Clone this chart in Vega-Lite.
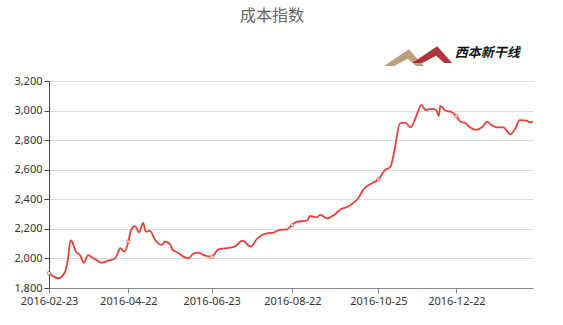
{
  "$schema": "https://vega.github.io/schema/vega-lite/v6.json",
  "width": 484,
  "height": 207,
  "autosize": "none",
  "padding": {"left": 49, "top": 81, "right": 30, "bottom": 37},
  "background": "white",
  "title": {"text": "成本指数", "anchor": "middle", "frame": "group", "offset": 22, "dx": -19, "fontSize": 16, "fontWeight": "normal", "color": "#666666", "font": "Noto Sans CJK SC"},
  "config": {
    "view": {"stroke": null},
    "axis": {"labelFont": "Noto Sans", "labelFontSize": 11, "labelColor": "#333333", "tickSize": 5, "title": null}
  },
  "datasets": {
    "cost": [
      {"date": "2016-02-23", "value": 1900},
      {"date": "2016-03-01", "value": 1866},
      {"date": "2016-03-06", "value": 1910},
      {"date": "2016-03-08", "value": 1990},
      {"date": "2016-03-10", "value": 2122},
      {"date": "2016-03-11", "value": 2115},
      {"date": "2016-03-14", "value": 2046},
      {"date": "2016-03-17", "value": 2023},
      {"date": "2016-03-20", "value": 1971},
      {"date": "2016-03-23", "value": 2023},
      {"date": "2016-03-27", "value": 2001},
      {"date": "2016-03-30", "value": 1985},
      {"date": "2016-04-02", "value": 1971},
      {"date": "2016-04-07", "value": 1985},
      {"date": "2016-04-11", "value": 1994},
      {"date": "2016-04-13", "value": 2012},
      {"date": "2016-04-16", "value": 2069},
      {"date": "2016-04-19", "value": 2046},
      {"date": "2016-04-22", "value": 2113},
      {"date": "2016-04-24", "value": 2192},
      {"date": "2016-04-27", "value": 2219},
      {"date": "2016-04-30", "value": 2177},
      {"date": "2016-05-03", "value": 2240},
      {"date": "2016-05-05", "value": 2181},
      {"date": "2016-05-08", "value": 2186},
      {"date": "2016-05-12", "value": 2125},
      {"date": "2016-05-17", "value": 2091},
      {"date": "2016-05-19", "value": 2113},
      {"date": "2016-05-23", "value": 2098},
      {"date": "2016-05-25", "value": 2057},
      {"date": "2016-05-29", "value": 2039},
      {"date": "2016-06-02", "value": 2012},
      {"date": "2016-06-06", "value": 2001},
      {"date": "2016-06-09", "value": 2030},
      {"date": "2016-06-13", "value": 2039},
      {"date": "2016-06-17", "value": 2023},
      {"date": "2016-06-23", "value": 2012},
      {"date": "2016-06-28", "value": 2062},
      {"date": "2016-07-04", "value": 2069},
      {"date": "2016-07-10", "value": 2080},
      {"date": "2016-07-16", "value": 2120},
      {"date": "2016-07-22", "value": 2080},
      {"date": "2016-07-27", "value": 2136},
      {"date": "2016-08-03", "value": 2170},
      {"date": "2016-08-08", "value": 2174},
      {"date": "2016-08-12", "value": 2192},
      {"date": "2016-08-18", "value": 2197},
      {"date": "2016-08-22", "value": 2226},
      {"date": "2016-08-25", "value": 2248},
      {"date": "2016-09-02", "value": 2255},
      {"date": "2016-09-04", "value": 2287},
      {"date": "2016-09-09", "value": 2278},
      {"date": "2016-09-12", "value": 2294},
      {"date": "2016-09-17", "value": 2271},
      {"date": "2016-09-22", "value": 2294},
      {"date": "2016-09-27", "value": 2332},
      {"date": "2016-10-02", "value": 2350},
      {"date": "2016-10-06", "value": 2373},
      {"date": "2016-10-10", "value": 2407},
      {"date": "2016-10-14", "value": 2468},
      {"date": "2016-10-21", "value": 2512},
      {"date": "2016-10-25", "value": 2535},
      {"date": "2016-10-30", "value": 2598},
      {"date": "2016-11-03", "value": 2620},
      {"date": "2016-11-06", "value": 2733},
      {"date": "2016-11-10", "value": 2914},
      {"date": "2016-11-14", "value": 2918},
      {"date": "2016-11-18", "value": 2887},
      {"date": "2016-11-23", "value": 2982},
      {"date": "2016-11-26", "value": 3038},
      {"date": "2016-11-29", "value": 3004},
      {"date": "2016-12-04", "value": 3011},
      {"date": "2016-12-07", "value": 3004},
      {"date": "2016-12-09", "value": 2963},
      {"date": "2016-12-10", "value": 3031},
      {"date": "2016-12-14", "value": 2999},
      {"date": "2016-12-18", "value": 2992},
      {"date": "2016-12-22", "value": 2963},
      {"date": "2016-12-25", "value": 2925},
      {"date": "2016-12-29", "value": 2914},
      {"date": "2017-01-01", "value": 2887},
      {"date": "2017-01-06", "value": 2869},
      {"date": "2017-01-10", "value": 2887},
      {"date": "2017-01-14", "value": 2925},
      {"date": "2017-01-17", "value": 2902},
      {"date": "2017-01-21", "value": 2887},
      {"date": "2017-01-26", "value": 2887},
      {"date": "2017-01-31", "value": 2840},
      {"date": "2017-02-04", "value": 2880},
      {"date": "2017-02-07", "value": 2936},
      {"date": "2017-02-12", "value": 2932},
      {"date": "2017-02-15", "value": 2921},
      {"date": "2017-02-17", "value": 2925}
    ],
    "logo": [
      {"date": "2017-01-14", "value": 3386, "label": "西本新干线"}
    ],
    "logoMark": [
      {"date": "2016-11-13", "value": 3358, "part": "tan"},
      {"date": "2016-12-04", "value": 3378, "part": "red"}
    ]
  },
  "encoding": {
    "x": {
      "field": "date",
      "type": "temporal",
      "scale": {"type": "utc", "domain": [{"year": 2016, "month": 2, "date": 23, "utc": true}, {"year": 2017, "month": 2, "date": 17, "utc": true}]},
      "axis": {
        "values": [
          {"year": 2016, "month": 2, "date": 23, "utc": true},
          {"year": 2016, "month": 4, "date": 22, "utc": true},
          {"year": 2016, "month": 6, "date": 23, "utc": true},
          {"year": 2016, "month": 8, "date": 22, "utc": true},
          {"year": 2016, "month": 10, "date": 25, "utc": true},
          {"year": 2016, "month": 12, "date": 22, "utc": true}
        ],
        "labelExpr": "utcFormat(datum.value, '%Y-%m-%d')",
        "grid": false,
        "domainColor": "#888888",
        "tickColor": "#888888",
        "labelPadding": 2,
        "labelFlush": false
      }
    },
    "y": {
      "field": "value",
      "type": "quantitative",
      "scale": {"domain": [1800, 3200], "nice": false, "zero": false},
      "axis": {
        "values": [1800, 2000, 2200, 2400, 2600, 2800, 3000, 3200],
        "format": ",d",
        "grid": true,
        "gridColor": "#dddddd",
        "domainColor": "#444444",
        "tickColor": "#444444",
        "labelPadding": 2
      }
    }
  },
  "layer": [
    {
      "data": {"name": "cost"},
      "mark": {"type": "line", "color": "#e4413b", "strokeWidth": 1.8, "interpolate": "monotone"}
    },
    {
      "data": {"name": "cost"},
      "transform": [
        {"filter": {"timeUnit": "utcyearmonthdate", "field": "date", "oneOf": [
          {"year": 2016, "month": 2, "date": 23, "utc": true},
          {"year": 2016, "month": 4, "date": 22, "utc": true},
          {"year": 2016, "month": 6, "date": 23, "utc": true},
          {"year": 2016, "month": 8, "date": 22, "utc": true},
          {"year": 2016, "month": 10, "date": 25, "utc": true},
          {"year": 2016, "month": 12, "date": 22, "utc": true}
        ]}}
      ],
      "mark": {"type": "point", "shape": "circle", "size": 14, "filled": true, "fill": "white", "stroke": "#e4413b", "strokeWidth": 1}
    },
    {
      "data": {"name": "logoMark"},
      "mark": {"type": "point", "shape": "M -1 0.42 L 0.25 -0.42 L 1 0.42 L 0.6 0.42 L 0.2 0.05 L -0.5 0.42 Z", "size": 1600, "filled": true, "opacity": 0.9, "clip": false},
      "encoding": {
        "color": {"field": "part", "type": "nominal", "scale": {"domain": ["tan", "red"], "range": ["#b89470", "#a81e2a"]}, "legend": null}
      }
    },
    {
      "data": {"name": "logo"},
      "mark": {"type": "text", "font": "Noto Sans CJK SC", "fontSize": 13, "fontWeight": "bold", "fontStyle": "italic", "color": "#111111", "clip": false},
      "encoding": {"text": {"field": "label"}}
    }
  ]
}
